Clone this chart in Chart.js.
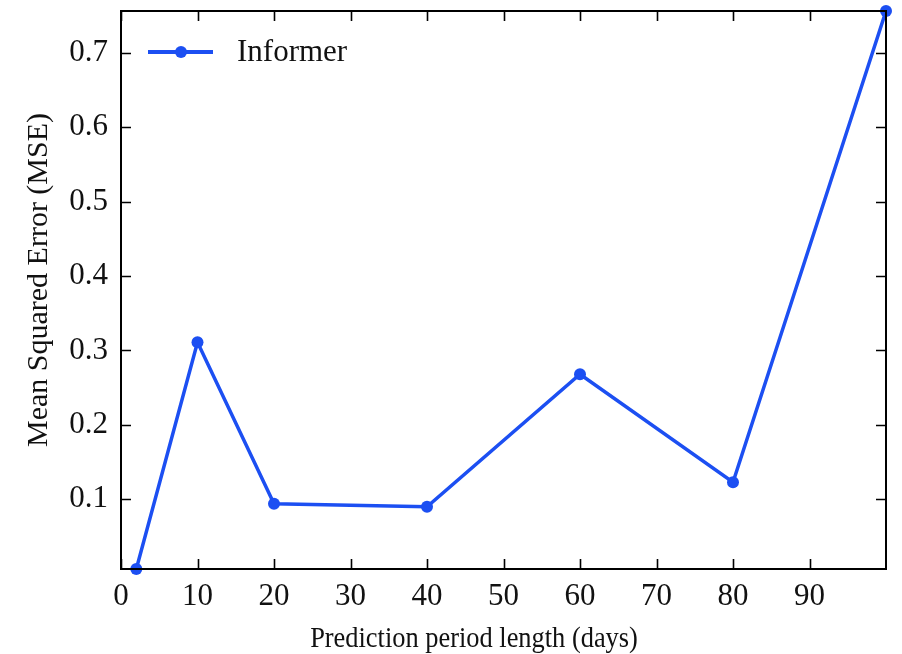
<!DOCTYPE html>
<html>
<head>
<meta charset="utf-8">
<script src="https://cdn.jsdelivr.net/npm/chart.js@4"></script>
<style>
  html, body { margin: 0; padding: 0; background: #fff; }
  #wrap { width: 902px; height: 654px; position: relative; }
</style>
</head>
<body>
<div id="wrap"><canvas id="c" width="902" height="654"></canvas></div>
<script>
// ── data ──
var periods  = [2, 10, 20, 40, 60, 80, 100];
var mseVals  = [0.0064, 0.311, 0.094, 0.090, 0.268, 0.123, 0.756];
var xTicks   = [0, 10, 20, 30, 40, 50, 60, 70, 80, 90];
var yTicks   = [0.1, 0.2, 0.3, 0.4, 0.5, 0.6, 0.7];
var seriesName = "Informer";
var xTitle = "Prediction period length (days)";
var yTitle = "Mean Squared Error (MSE)";

var BLUE = "#1c4ff2";
var FONT = "'Liberation Serif', 'DejaVu Serif', serif";

// ticks drawn inwards on all four sides, axis titles, legend inside plot
var frame = {
  id: "frame",
  afterDraw: function(chart) {
    var ctx = chart.ctx, a = chart.chartArea;
    var xs = chart.scales.x, ys = chart.scales.y;
    var L = 10;
    ctx.save();
    ctx.strokeStyle = "#000";
    ctx.lineWidth = 2;
    ctx.strokeRect(a.left, a.top, a.right - a.left, a.bottom - a.top);
    ctx.lineWidth = 1.6;
    ctx.beginPath();
    xTicks.forEach(function(v) {
      var px = Math.round(xs.getPixelForValue(v)) + 0.5;
      ctx.moveTo(px, a.bottom); ctx.lineTo(px, a.bottom - L);
      ctx.moveTo(px, a.top);    ctx.lineTo(px, a.top + L);
    });
    yTicks.forEach(function(v) {
      var py = Math.round(ys.getPixelForValue(v)) + 0.5;
      ctx.moveTo(a.left, py);  ctx.lineTo(a.left + L, py);
      ctx.moveTo(a.right, py); ctx.lineTo(a.right - L, py);
    });
    ctx.stroke();

    // axis titles
    ctx.fillStyle = "#111";
    ctx.textAlign = "center";
    ctx.save();
    ctx.translate(474, 647);
    ctx.scale(0.88, 1);
    ctx.textBaseline = "alphabetic";
    ctx.font = "30px " + FONT;
    ctx.fillText(xTitle, 0, 0);
    ctx.restore();
    ctx.save();
    ctx.translate(39, 280);
    ctx.rotate(-Math.PI / 2);
    ctx.textBaseline = "middle";
    ctx.font = "30px " + FONT;
    ctx.fillText(yTitle, 0, 0);
    ctx.restore();

    // legend
    var ds = chart.data.datasets[0];
    var ly = 52;
    ctx.strokeStyle = ds.borderColor;
    ctx.lineWidth = 4;
    ctx.beginPath(); ctx.moveTo(148, ly); ctx.lineTo(213, ly); ctx.stroke();
    ctx.fillStyle = ds.borderColor;
    ctx.beginPath(); ctx.arc(181, ly, 6, 0, Math.PI * 2); ctx.fill();
    ctx.fillStyle = "#111";
    ctx.font = "31px " + FONT;
    ctx.textAlign = "left";
    ctx.textBaseline = "middle";
    ctx.fillText(ds.label, 237, ly + 1);
    ctx.restore();
  }
};

new Chart(document.getElementById("c"), {
  type: "line",
  data: {
    datasets: [{
      label: seriesName,
      data: periods.map(function(p, i) { return { x: p, y: mseVals[i] }; }),
      borderColor: BLUE,
      backgroundColor: BLUE,
      borderWidth: 3.5,
      pointRadius: 6,
      pointBackgroundColor: BLUE,
      pointBorderWidth: 0,
      tension: 0,
      clip: false
    }]
  },
  options: {
    responsive: false,
    animation: false,
    layout: { padding: { top: 11, right: 16, left: 0, bottom: 0 } },
    plugins: { legend: { display: false }, tooltip: { enabled: false } },
    scales: {
      x: {
        type: "linear", min: 0, max: 100,
        afterBuildTicks: function(s) { s.ticks = xTicks.map(function(v) { return { value: v }; }); },
        afterFit: function(s) { s.height = 85; s.paddingLeft = 0; s.paddingRight = 0; },
        grid: { display: false, drawTicks: false },
        border: { display: false },
        ticks: { color: "#111", font: { family: FONT, size: 31 }, padding: 9, maxRotation: 0 },
        title: { display: false }
      },
      y: {
        type: "linear", min: 0.0064, max: 0.756,
        afterBuildTicks: function(s) { s.ticks = yTicks.map(function(v) { return { value: v }; }); },
        afterFit: function(s) { s.width = 121; s.paddingTop = 0; s.paddingBottom = 0; },
        grid: { display: false, drawTicks: false },
        border: { display: false },
        ticks: { color: "#111", font: { family: FONT, size: 31 }, padding: 13,
                 callback: function(v) { return v.toFixed(1); } },
        title: { display: false }
      }
    }
  },
  plugins: [frame]
});
</script>
</body>
</html>
